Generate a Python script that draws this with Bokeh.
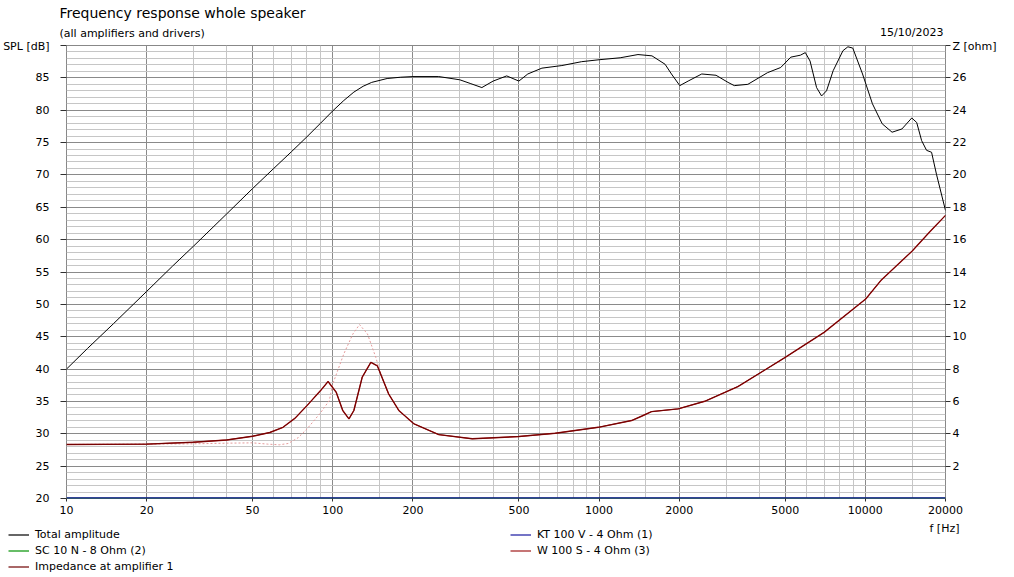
from bokeh.plotting import figure
from bokeh.layouts import column
from bokeh.models import (LinearAxis, Range1d, FixedTicker, PrintfTickFormatter,
                          Legend, LegendItem)
from bokeh.core.properties import value
from bokeh.embed import file_html
from bokeh.resources import INLINE

FONT = "DejaVu Sans"

# ---- data -------------------------------------------------------------
freq_total = [10, 12, 15, 20, 25, 30, 40, 50, 60, 70,
              80, 90, 100, 110, 120, 130, 140, 160, 180, 200,
              250, 300, 330, 363, 400, 450, 500, 540, 610, 725,
              860, 1000, 1200, 1400, 1580, 1770, 1870, 2010, 2160, 2430,
              2750, 3050, 3220, 3620, 4290, 4810, 5250, 5700, 5950, 6200,
              6560, 6850, 7150, 7570, 8240, 8600, 8970, 9760, 10630, 11570,
              12600, 13720, 14940, 15590, 16270, 16980, 17730, 18500, 20000]
spl_total = [40.0, 43.2, 47.0, 52.0, 55.9, 59.0, 64.0, 67.9, 71.0, 73.6,
             75.9, 78.0, 79.9, 81.5, 82.8, 83.7, 84.3, 84.9, 85.1, 85.2,
             85.2, 84.7, 84.1, 83.5, 84.5, 85.3, 84.5, 85.6, 86.5, 86.9,
             87.5, 87.8, 88.1, 88.6, 88.4, 87.1, 85.6, 83.8, 84.5, 85.6,
             85.4, 84.3, 83.8, 84.0, 85.8, 86.6, 88.2, 88.5, 88.9, 87.6,
             83.5, 82.2, 83.0, 86.1, 89.2, 89.8, 89.6, 85.6, 81.0, 77.9,
             76.6, 77.1, 78.8, 78.1, 75.3, 73.8, 73.5, 70.1, 64.5]

freq_imp = [10, 20, 30, 40, 50, 58, 65, 72, 80, 90, 96, 103,
            109, 115, 120, 129, 139, 147, 162, 177, 202, 250,
            334, 500, 684, 993, 1325, 1450, 1574, 1982, 2494, 3322,
            4966, 7000, 10030, 11430, 15000, 17500, 20000]
imp_amp = [3.34, 3.36, 3.48, 3.62, 3.85, 4.08, 4.4, 4.95, 5.74, 6.67, 7.23, 6.57,
           5.44, 4.92, 5.44, 7.5, 8.42, 8.2, 6.47, 5.44, 4.61, 3.95,
           3.69, 3.83, 4.03, 4.4, 4.82, 5.1, 5.37, 5.54, 6.01, 6.92,
           8.69, 10.27, 12.33, 13.47, 15.3, 16.5, 17.5]

freq_dash = [10, 30, 40, 50, 57, 63, 68, 74, 80, 90, 97,
             100, 110, 119, 126, 135, 145, 152, 162]
imp_dash = [3.34, 3.38, 3.42, 3.44, 3.36, 3.32, 3.4, 3.75, 4.3, 5.3, 6.05,
            7.08, 8.94, 10.17, 10.75, 10.17, 8.73, 7.6, 6.47]

freq_kt = [10, 20000]
spl_kt = [20, 20]
freq_sc = [10, 20000]
spl_sc = [20, 20]

x_major = [10, 20, 50, 100, 200, 500, 1000, 2000, 5000, 10000, 20000]
x_minor = [30, 40, 60, 70, 80, 90, 150, 300, 400, 600, 700, 800, 900,
           1500, 3000, 4000, 6000, 7000, 8000, 9000, 15000]
spl_ticks = list(range(20, 95, 5))
spl_minor = [v for v in range(20, 91) if v % 5]
z_ticks = list(range(2, 30, 2))

title_text = "Frequency response whole speaker"
subtitle_text = "(all amplifiers and drivers)"
date_text = "15/10/2023"
xlabel_text = "f [Hz]"
legend_labels = ["Total amplitude", "SC 10 N - 8 Ohm (2)",
                 "Impedance at amplifier 1", "KT 100 V - 4 Ohm (1)",
                 "W 100 S - 4 Ohm (3)"]

W = 1010
ML, MR = 63, 65
H_HDR, H_MAIN, H_FTR = 39, 478, 58

def txt(fig, x, y, s, size="11px", align="left", xo=0):
    fig.text(x=[x], y=[y], text=[s], text_font=value(FONT),
             text_font_size=size, text_color="black", text_align=align,
             text_baseline="middle", x_offset=xo)

# ---- header (titles) ----------------------------------------------------
x_range = Range1d(10, 20000)
hdr = figure(width=W, height=H_HDR, x_range=Range1d(0, W - ML + 4 - MR),
             y_range=Range1d(0, H_HDR), output_backend="svg",
             toolbar_location=None, x_axis_location=None,
             y_axis_location=None, min_border_left=ML - 4, min_border_right=MR,
             min_border_top=0, min_border_bottom=0)
try:
    hdr.frame_align = False
except Exception:
    pass
hdr.title.visible = False
hdr.outline_line_color = None
hdr.grid.visible = False
txt(hdr, 0, H_HDR - 12.5, title_text, size="14px")
txt(hdr, 0, H_HDR - 33, subtitle_text)
txt(hdr, W - ML + 4 - MR, H_HDR - 32, date_text, align="right", xo=-2)

# ---- main figure ----------------------------------------------------------
p = figure(width=W, height=H_MAIN, x_axis_type="log",
           x_range=x_range, y_range=Range1d(20, 90),
           output_backend="svg", toolbar_location=None,
           min_border_left=ML, min_border_right=MR,
           min_border_top=6, min_border_bottom=19)
p.title.visible = False
p.outline_line_color = "#888888"

xt = FixedTicker(ticks=x_major, minor_ticks=x_minor)
yt = FixedTicker(ticks=spl_ticks, minor_ticks=spl_minor)
p.xaxis.ticker = xt
p.xgrid.ticker = xt
p.yaxis.ticker = FixedTicker(ticks=spl_ticks)
p.ygrid.ticker = yt
p.yaxis.major_label_overrides = {90: "SPL [dB]"}

for g in (p.xgrid, p.ygrid):
    g.grid_line_color = "#8a8a8a"
    g.grid_line_width = 1
    g.minor_grid_line_color = "#c6c6c6"
    g.minor_grid_line_width = 1

p.extra_y_ranges = {"z": Range1d(0, 28)}
zax = LinearAxis(y_range_name="z", ticker=FixedTicker(ticks=z_ticks))
zax.major_label_overrides = {28: "Z [ohm]"}
p.add_layout(zax, "right")

p.xaxis.formatter = PrintfTickFormatter(format="%d")

for ax in (p.xaxis[0], p.yaxis[0], zax):
    ax.axis_line_color = None
    ax.minor_tick_line_color = None
    ax.major_tick_line_color = "#303030"
    ax.major_tick_in = 0
    ax.major_label_text_font = FONT
    ax.major_label_text_font_size = "11px"
    ax.major_label_text_color = "black"

p.xaxis.major_tick_out = 3
p.xaxis.major_label_standoff = 3
p.yaxis.major_tick_out = 6
p.yaxis.major_label_standoff = 11
zax.major_tick_out = 5
zax.major_label_standoff = 2

# ---- lines --------------------------------------------------------------
STY = {
    "w": dict(line_color="#a01818", line_width=1.4),
    "imp": dict(line_color="#700000", line_width=1),
    "sc": dict(line_color="#009000", line_width=2),
    "kt": dict(line_color="#1818a0", line_width=2.5),
    "tot": dict(line_color="black", line_width=1),
}
p.line(freq_dash, imp_dash, y_range_name="z", line_color="#e49a9a",
       line_width=1, line_dash="2 2")
p.line(freq_imp, imp_amp, y_range_name="z", **STY["w"])
p.line(freq_imp, imp_amp, y_range_name="z", **STY["imp"])
p.line(freq_sc, spl_sc, **STY["sc"])
p.line(freq_kt, spl_kt, **STY["kt"])
p.line(freq_total, spl_total, **STY["tot"])

# ---- footer: x label and legend -----------------------------------------
ftr = figure(width=W, height=H_FTR, x_range=Range1d(0, W),
             y_range=Range1d(0, H_FTR), output_backend="svg",
             toolbar_location=None, x_axis_location=None,
             y_axis_location=None, min_border=0)
try:
    ftr.frame_align = False
except Exception:
    pass
ftr.title.visible = False
ftr.outline_line_color = None
ftr.grid.visible = False
ftr.extra_x_ranges = {"off": Range1d(1e6, 2e6)}
ftr.extra_y_ranges = {"off": Range1d(1e6, 2e6)}
txt(ftr, 944, H_FTR - 11, xlabel_text, align="center")

# legend entries mirror the series of the main chart (outside this frame's range)
def mirror(xs, ys, key):
    st = dict(STY[key])
    st["line_width"] = 1.2
    return ftr.line(xs, ys, x_range_name="off", y_range_name="off", **st)

f_tot = mirror(freq_total, spl_total, "tot")
f_sc = mirror(freq_sc, spl_sc, "sc")
f_imp = mirror(freq_imp, imp_amp, "imp")
f_kt = mirror(freq_kt, spl_kt, "kt")
f_w = mirror(freq_imp, imp_amp, "w")

def make_legend(items, loc):
    lg = Legend(items=items, location=loc, orientation="vertical")
    lg.background_fill_alpha = 0
    lg.border_line_alpha = 0
    lg.padding = 0
    lg.margin = 0
    lg.spacing = 3
    lg.glyph_width = 21
    lg.glyph_height = 13
    lg.label_height = 13
    lg.label_standoff = 6
    lg.label_text_font = FONT
    lg.label_text_font_size = "11px"
    lg.label_text_color = "black"
    ftr.add_layout(lg, "center")

make_legend([
    LegendItem(label=legend_labels[0], renderers=[f_tot]),
    LegendItem(label=legend_labels[1], renderers=[f_sc]),
    LegendItem(label=legend_labels[2], renderers=[f_imp]),
], (8, 2))
make_legend([
    LegendItem(label=legend_labels[3], renderers=[f_kt]),
    LegendItem(label=legend_labels[4], renderers=[f_w]),
], (510, 18))

layout = column(hdr, p, ftr, spacing=0)
open("out.html", "w").write(file_html(layout, INLINE))
